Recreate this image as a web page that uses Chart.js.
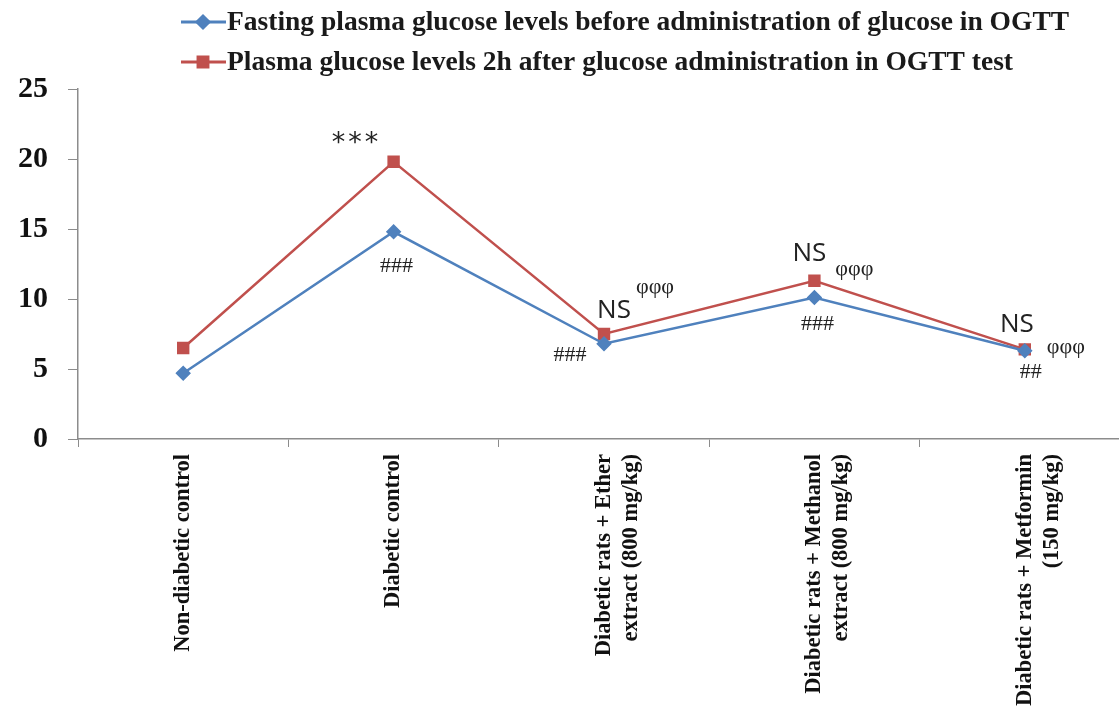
<!DOCTYPE html>
<html>
<head>
<meta charset="utf-8">
<script src="https://cdn.jsdelivr.net/npm/chart.js@4.4.0/dist/chart.umd.min.js"></script>
<style>
html, body { margin: 0; padding: 0; background: #fff; overflow: hidden; }
#wrap { width: 1140px; height: 711px; }
</style>
</head>
<body>
<div id="wrap"><canvas id="myChart"></canvas></div>
<script>
const groups = [
    ['Non-diabetic control'],
    ['Diabetic control'],
    ['Diabetic rats + Ether', 'extract (800 mg/kg)'],
    ['Diabetic rats + Methanol', 'extract (800 mg/kg)'],
    ['Diabetic rats + Metformin', '(150 mg/kg)']
];
const fastingLabel = 'Fasting plasma glucose levels before administration of glucose in OGTT';
const afterLabel = 'Plasma glucose levels 2h after glucose administration in OGTT test';
const fasting = [4.7, 14.8, 6.8, 10.1, 6.3];
const after2h = [6.5, 19.8, 7.5, 11.3, 6.4];
const yTicks = [0, 5, 10, 15, 20, 25];

// significance marks: category index, series (0 = fasting, 1 = 2h), text
const marks = [
    [1, 1, '***'],
    [1, 0, '###'],
    [2, 1, 'NS'],
    [2, 1, 'φφφ'],
    [2, 0, '###'],
    [3, 1, 'NS'],
    [3, 1, 'φφφ'],
    [3, 0, '###'],
    [4, 1, 'NS'],
    [4, 1, 'φφφ'],
    [4, 0, '##']
];

const blue = '#4F81BD';
const red = '#C0504D';
const axisGray = '#8c8c8c';

// pixel offsets of each mark from its point (same order as marks)
const markPos = [
    [-37, -18], [3, 34],
    [10, -23], [51, -47], [-34, 11],
    [-5, -27], [40, -12], [3, 27],
    [-8, -25], [41, -2], [6, 21]
];

const topLegend = {
    id: 'topLegend',
    afterDraw(chart) {
        const ctx = chart.ctx;
        const rows = [22, 62];
        chart.data.datasets.forEach((ds, i) => {
            const y = rows[i];
            ctx.save();
            ctx.strokeStyle = ds.borderColor;
            ctx.lineWidth = 3;
            ctx.beginPath();
            ctx.moveTo(181, y);
            ctx.lineTo(226, y);
            ctx.stroke();
            ctx.fillStyle = ds.backgroundColor;
            ctx.strokeStyle = ds.borderColor;
            Chart.helpers.drawPoint(ctx, {pointStyle: ds.pointStyle, radius: ds.pointRadius, rotation: 0, borderWidth: 1}, 203, y);
            ctx.fillStyle = '#1a1a1a';
            ctx.font = 'bold 27.5px "Liberation Serif"';
            ctx.textBaseline = 'middle';
            ctx.textAlign = 'left';
            ctx.fillText(ds.label, 227, y + 1);
            ctx.restore();
        });
    }
};

const sigMarks = {
    id: 'sigMarks',
    afterDatasetsDraw(chart) {
        const ctx = chart.ctx;
        marks.forEach((m, k) => {
            const pt = chart.getDatasetMeta(m[1]).data[m[0]];
            const off = markPos[k];
            ctx.save();
            ctx.fillStyle = '#222';
            ctx.textAlign = 'center';
            ctx.textBaseline = 'middle';
            if (m[2] === 'NS') {
                ctx.font = '26px "Open Sans"';
            } else if (m[2] === '***') {
                ctx.font = '27px "DejaVu Sans"';
                ctx.letterSpacing = '3px';
            } else if (m[2].startsWith('#')) {
                ctx.font = '22px "Liberation Serif"';
            } else {
                ctx.font = '22px "Liberation Serif"';
            }
            ctx.fillText(m[2], pt.x + off[0], pt.y + off[1]);
            ctx.restore();
        });
    }
};

const canvas = document.getElementById('myChart');
const ctx = canvas.getContext('2d');
new Chart(ctx, {
    type: 'line',
    data: {
        labels: groups,
        datasets: [{
            label: fastingLabel,
            data: fasting,
            borderColor: blue,
            backgroundColor: blue,
            borderWidth: 2.5,
            pointStyle: 'rectRot',
            pointRadius: 6,
            tension: 0
        }, {
            label: afterLabel,
            data: after2h,
            borderColor: red,
            backgroundColor: red,
            borderWidth: 2.5,
            pointStyle: 'rect',
            pointRadius: 7,
            tension: 0
        }]
    },
    options: {
        responsive: true,
        maintainAspectRatio: false,
        animation: false,
        layout: { padding: { top: 89, right: 10, left: 0, bottom: 0 } },
        plugins: {
            legend: { display: false },
            tooltip: { enabled: false }
        },
        scales: {
            x: {
                offset: true,
                grid: { offset: true, drawOnChartArea: false, tickLength: 8, color: axisGray },
                border: { color: axisGray, width: 1.5 },
                ticks: {
                    minRotation: 90,
                    maxRotation: 90,
                    padding: 7,
                    color: '#111',
                    font: { family: '"Liberation Serif"', size: 22.5, weight: 'bold' }
                },
                afterFit: s => { s.height = 272; }
            },
            y: {
                min: 0,
                max: 25,
                afterBuildTicks: s => { s.ticks = yTicks.map(v => ({ value: v })); },
                grid: { drawOnChartArea: false, tickLength: 10, color: axisGray },
                border: { color: axisGray, width: 1.5 },
                ticks: {
                    padding: 20,
                    color: '#111',
                    font: { family: '"Liberation Serif"', size: 30, weight: 'bold' }
                },
                afterFit: s => { s.width = 78; }
            }
        }
    },
    plugins: [topLegend, sigMarks]
});
</script>
</body>
</html>
